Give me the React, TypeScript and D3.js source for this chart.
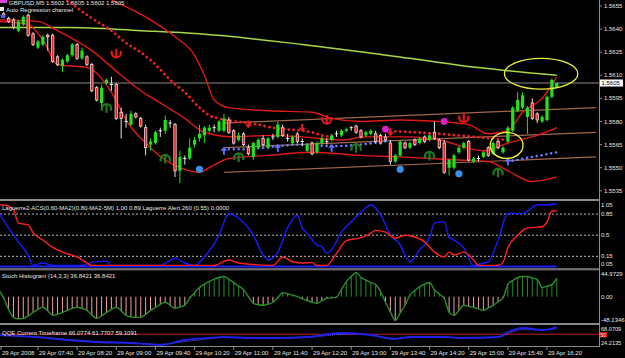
import React from "react";
import * as d3 from "d3";

// ---------- DATA ----------
const timeLabels = ["29 Apr 2008","29 Apr 07:40","29 Apr 08:20","29 Apr 09:00","29 Apr 09:40","29 Apr 10:20","29 Apr 11:00","29 Apr 11:40","29 Apr 12:20","29 Apr 13:00","29 Apr 13:40","29 Apr 14:20","29 Apr 15:00","29 Apr 15:40","29 Apr 16:20"];
const timeLabelBars = [0,8,16,24,32,40,48,56,64,72,80,88,96,104,112];
const priceTicks = [1.5655,1.5640,1.5625,1.5610,1.5595,1.5580,1.5565,1.5550,1.5535];

const open = [1.5649,1.5650,1.5647,1.5646,1.5639,1.5643,1.5649,1.5637,1.5628,1.5630,1.5636,1.5636,1.5622,1.5616,1.5619,1.5623,1.5630,1.5621,1.5622,1.5617,1.5602,1.5592,1.5605,1.5604,1.5604,1.5586,1.5580,1.5578,1.5585,1.5582,1.5576,1.5565,1.5566,1.5574,1.5574,1.5579,1.5578,1.5548,1.5556,1.5556,1.5565,1.5569,1.5571,1.5574,1.5576,1.5574,1.5574,1.5581,1.5574,1.5568,1.5572,1.5563,1.5557,1.5563,1.5569,1.5563,1.5570,1.5570,1.5576,1.5569,1.5566,1.5572,1.5567,1.5561,1.5566,1.5560,1.5566,1.5567,1.5568,1.5572,1.5571,1.5574,1.5576,1.5577,1.5574,1.5571,1.5572,1.5572,1.5571,1.5570,1.5566,1.5554,1.5558,1.5566,1.5563,1.5568,1.5566,1.5570,1.5568,1.5573,1.5568,1.5566,1.5550,1.5550,1.5560,1.5563,1.5567,1.5554,1.5556,1.5557,1.5563,1.5559,1.5567,1.5560,1.5567,1.5574,1.5587,1.5589,1.5583,1.5592,1.5585,1.5580,1.5581,1.5596,1.5602];
const high = [1.5651,1.5651,1.5648,1.5647,1.5646,1.5649,1.5650,1.5638,1.5633,1.5636,1.5637,1.5637,1.5623,1.5621,1.5624,1.5631,1.5631,1.5628,1.5623,1.5618,1.5603,1.5604,1.5608,1.5609,1.5605,1.5589,1.5585,1.5587,1.5586,1.5583,1.5578,1.5569,1.5574,1.5576,1.5584,1.5581,1.5579,1.5561,1.5558,1.5569,1.5570,1.5578,1.5577,1.5578,1.5578,1.5581,1.5585,1.5583,1.5575,1.5573,1.5573,1.5565,1.5567,1.5569,1.5571,1.5570,1.5572,1.5580,1.5578,1.5572,1.5571,1.5573,1.5569,1.5566,1.5567,1.5567,1.5570,1.5569,1.5572,1.5574,1.5575,1.5576,1.5577,1.5578,1.5575,1.5574,1.5575,1.5574,1.5572,1.5572,1.5568,1.5559,1.5568,1.5567,1.5567,1.5569,1.5570,1.5571,1.5572,1.5580,1.5569,1.5568,1.5556,1.5559,1.5564,1.5567,1.5568,1.5557,1.5558,1.5561,1.5564,1.5567,1.5568,1.5564,1.5577,1.5590,1.5599,1.5599,1.5590,1.5595,1.5586,1.5584,1.5597,1.5608,1.5605];
const low = [1.5647,1.5647,1.5644,1.5640,1.5638,1.5642,1.5635,1.5629,1.5627,1.5629,1.5626,1.5618,1.5616,1.5612,1.5618,1.5622,1.5620,1.5620,1.5616,1.5599,1.5593,1.5589,1.5604,1.5600,1.5581,1.5569,1.5576,1.5577,1.5582,1.5576,1.5558,1.5561,1.5565,1.5570,1.5572,1.5576,1.5544,1.5540,1.5552,1.5555,1.5563,1.5567,1.5566,1.5573,1.5573,1.5573,1.5573,1.5572,1.5565,1.5567,1.5564,1.5558,1.5555,1.5562,1.5564,1.5562,1.5568,1.5569,1.5570,1.5567,1.5565,1.5566,1.5564,1.5560,1.5558,1.5559,1.5565,1.5565,1.5567,1.5570,1.5570,1.5573,1.5574,1.5572,1.5569,1.5570,1.5571,1.5566,1.5565,1.5567,1.5552,1.5553,1.5557,1.5562,1.5562,1.5564,1.5565,1.5566,1.5567,1.5568,1.5562,1.5546,1.5545,1.5549,1.5559,1.5562,1.5554,1.5553,1.5554,1.5556,1.5557,1.5558,1.5562,1.5559,1.5566,1.5573,1.5586,1.5588,1.5572,1.5581,1.5579,1.5579,1.5580,1.5595,1.5602];
const close = [1.5649,1.5648,1.5645,1.5641,1.5645,1.5648,1.5636,1.5630,1.5632,1.5635,1.5635,1.5619,1.5617,1.5620,1.5623,1.5630,1.5621,1.5626,1.5617,1.5600,1.5594,1.5602,1.5607,1.5604,1.5582,1.5582,1.5580,1.5585,1.5583,1.5577,1.5563,1.5567,1.5573,1.5574,1.5581,1.5579,1.5548,1.5557,1.5556,1.5563,1.5568,1.5572,1.5576,1.5576,1.5576,1.5580,1.5582,1.5573,1.5566,1.5571,1.5565,1.5559,1.5566,1.5568,1.5565,1.5569,1.5570,1.5578,1.5571,1.5569,1.5570,1.5567,1.5567,1.5565,1.5559,1.5566,1.5569,1.5567,1.5571,1.5572,1.5574,1.5575,1.5576,1.5573,1.5570,1.5573,1.5574,1.5567,1.5566,1.5568,1.5554,1.5558,1.5567,1.5563,1.5566,1.5565,1.5569,1.5567,1.5571,1.5569,1.5563,1.5547,1.5555,1.5558,1.5563,1.5566,1.5555,1.5556,1.5556,1.5560,1.5558,1.5566,1.5563,1.5563,1.5576,1.5589,1.5594,1.5597,1.5589,1.5582,1.5581,1.5583,1.5596,1.5607,1.5605];

const smaBars = [0,14,29,41,62,84,98,114];
const smaVals = [1.5641,1.5641,1.5639,1.5637,1.5630,1.5621,1.5615,1.5610];

const upperBars = [23,31,36,40,42,44,47,55,64,68,74,82,90,96,100,104,107,111,114];
const upperVals = [1.5659,1.5646,1.5635,1.5623,1.5610,1.5594,1.5589,1.5587,1.5586,1.5582,1.5580,1.5581,1.5580,1.5578,1.5572,1.5574,1.5586,1.5595,1.5609];
const midBars = [0,8,12,19,25,29,32,38,42,48,55,62,70,75,84,90,99,104,110,114];
const midVals = [1.5646,1.5645,1.5639,1.5626,1.5610,1.5600,1.5594,1.5582,1.5573,1.5570,1.5571,1.5570,1.5568,1.5570,1.5570,1.5568,1.5561,1.5566,1.5571,1.5576];
const lowerBars = [0,6,9,12,18,23,25,26,30,34,37,41,43,47,55,64,74,82,94,100,104,109,114];
const lowerVals = [1.5645,1.5643,1.5633,1.5617,1.5615,1.5599,1.5587,1.5581,1.5566,1.5555,1.5550,1.5547,1.5550,1.5556,1.5558,1.5560,1.5558,1.5557,1.5555,1.5554,1.5548,1.5541,1.5544];

const redDot1Bars = [14,19,23,26,29,32,35,38,41,43,45,51,53,56,64,66,68];
const redDot1Vals = [1.5659,1.5647,1.5639,1.5631,1.5625,1.5617,1.5607,1.5599,1.5589,1.5584,1.5582,1.5579,1.5578,1.5576,1.5573,1.5571,1.5570];
const redDot2Bars = [79,90,104];
const redDot2Vals = [1.5574,1.5572,1.5568];
const blueDot1Bars = [46,50,57,61,68,79];
const blueDot1Vals = [1.5562,1.5562,1.5564,1.5565,1.5564,1.5567];
const blueDot2Bars = [104,114];
const blueDot2Vals = [1.5554,1.5560];

const downArrowBars = [51,62,80];
const downArrowVals = [1.5578,1.5576,1.5573];
const upArrowBars = [46,57,68,104];
const upArrowVals = [1.5561,1.5563,1.5563,1.5554];
const redShoeBars = [24,67,95];
const redShoeVals = [1.5624,1.5581,1.5582];
const greenShoeBars = [22,34,49,73,88,102];
const greenShoeVals = [1.5589,1.5556,1.5557,1.5563,1.5558,1.5547];
const blueBallBars = [41,82,94];
const blueBallVals = [1.5549,1.5549,1.5546];
const pinkBallBars = [79,91];
const pinkBallVals = [1.5575,1.5580];

const chanBars = [46,122];
const chanTop = [1.5579,1.5589];
const chanMid = [1.5563,1.5573];
const chanLow = [1.5547,1.5557];
const lastPrice = 1.5605;

const ellipseBars = [[103.3,118.3],[100.4,107.1]];
const ellipseVals = [[1.5601,1.5621],[1.5556,1.5573]];

const lagBlueBars = [0,2,4,6,7,9,11,17,19,22,23,33,36,38,40,42,45,47,49,52,54,55,57,59,61,62,63,65,66,67,68,70,72,74,76,78,80,82,83,84,86,88,89,91,92,93,95,97,99,100,102,104,107,110,111,114];
const lagBlueVals = [0.87,0.62,0.39,0.17,0,0.04,0,0,0.05,0.07,0,0,0.12,0.04,0,0.14,0.5,0.86,0.78,0.5,0.17,0.09,0.22,0.62,0.83,0.62,0.53,0.34,0.31,0.2,0.26,0.55,0.72,0.88,1.0,0.84,0.5,0.34,0.17,0.06,0.26,0.46,0.7,0.72,0.46,0.42,0.29,0,0.04,0.06,0.42,0.86,0.86,1.0,1.0,1.02];
const lagRedBars = [0,1,3,4,6,7,9,11,13,16,18,19,44,47,49,56,58,60,62,64,65,67,69,71,74,76,77,79,81,83,85,87,89,91,92,93,95,97,98,102,103,104,106,108,111,112,113,114];
const lagRedVals = [1.0,1.0,0.92,0.7,0.67,0.54,0.42,0.3,0.22,0.14,0.04,0,0,0.09,0.04,0,0.14,0.06,0.04,0.05,0,0,0.2,0.41,0.46,0.53,0.58,0.55,0.45,0.5,0.47,0.39,0.22,0.14,0.22,0.17,0.22,0.09,0,0,0.05,0.29,0.5,0.62,0.64,0.72,0.9,0.9];
const lagLevels = [0.85,0.5,0.15];

const stoch = [14,-3,-25,-41,-44,-43,-38,-31,-25,-21,-28,-37,-35,-31,-27,-23,-21,-23,-27,-36,-43,-38,-31,-25,-21,-28,-37,-40,-41,-41,-35,-27,-21,-15,-11,-17,-23,-20,-17,-3,8,18,25,30,35,38,40,35,28,21,14,0,-13,-16,-17,-15,-11,-2,8,6,3,0,-4,-8,-11,-13,-8,-3,-2,-1,14,30,40,48,38,33,28,24,10,-11,-30,-47,-32,-17,3,12,20,25,28,14,5,-3,-31,-37,-27,-17,-19,-21,-24,-27,-22,-17,-10,-3,24,32,38,40,40,37,34,18,21,24,37];

const qqeBars = [0,7,14,20,27,33,38,43,46,52,57,63,70,74,76,79,81,84,91,94,102,104,107,111,114];
const qqeVals = [48.3,44,37.4,33,30.8,26.4,37.4,41.8,44,41.8,41.8,44,52.7,50.5,48.3,41.8,39.6,44,44,41.8,44,54.9,63.7,59.3,65];
const qqeSlowVals = [47,45,39,34,31,28,34,40,43,42,41,43,50,51,49,43,41,43,44,42,43,51,60,60,62];

// ---------- SCALES ----------
const xS = d3.scaleLinear().domain([0, 114]).range([-1.2, 556.8]);
const yM = d3.scaleLinear().domain([1.5535, 1.5655]).range([190.8, 6]);
const yL = d3.scaleLinear().domain([0, 1]).range([265.4, 205]);
const yS = d3.scaleLinear().domain([-48.1346, 44.9729]).range([321, 274]);
const yQ = d3.scaleLinear().domain([24.2135, 68.0709]).range([346, 326]);

const zip = (a: number[], b: number[]) => a.map((v, i) => [v, b[i]] as [number, number]);
const mkLine = (ys: d3.ScaleLinear<number, number>) =>
  d3.line<[number, number]>().x(d => xS(d[0])).y(d => ys(d[1])).curve(d3.curveMonotoneX);
const lineM = mkLine(yM);
const lineStraightM = d3.line<[number, number]>().x(d => xS(d[0])).y(d => yM(d[1]));
const lineL = mkLine(yL);
const lineS = mkLine(yS);
const lineQ = mkLine(yQ);

const FONT = "Liberation Sans, Arial, sans-serif";
const TXT = "#e6e6e6";

function Shoe({ cx, cy, up, color }: { cx: number; cy: number; up: boolean; color: string }) {
  const r = 4.6;
  const d = up
    ? `M${cx - r},${cy - 3} L${cx - r},${cy - 1} A${r},${r} 0 0 0 ${cx + r},${cy - 1} L${cx + r},${cy - 3} M${cx},${cy - 5} L${cx},${cy + 2.5}`
    : `M${cx - r},${cy + 3} L${cx - r},${cy + 1} A${r},${r} 0 0 1 ${cx + r},${cy + 1} L${cx + r},${cy + 3} M${cx},${cy + 5} L${cx},${cy - 2.5}`;
  return <path d={d} fill="none" stroke={color} strokeWidth={2.2} />;
}

function Arrow({ cx, cy, down, color }: { cx: number; cy: number; down: boolean; color: string }) {
  const s = down ? 1 : -1;
  const d = `M${cx - 1},${cy - 4 * s} L${cx + 1},${cy - 4 * s} L${cx + 1},${cy} L${cx + 3.5},${cy} L${cx},${cy + 4 * s} L${cx - 3.5},${cy} L${cx - 1},${cy} Z`;
  return <path d={d} fill={color} />;
}

export default function App() {
  const bw = 1.6;
  return (
    <svg width={625} height={358} style={{ display: "block", position: "absolute", left: 0, top: 0, background: "#000" }}
      fontFamily={FONT}>
      <defs>
        <clipPath id="cm"><rect x={0} y={0} width={599} height={199} /></clipPath>
        <clipPath id="cl"><rect x={0} y={201} width={599} height={67} /></clipPath>
      </defs>
      <rect x={0} y={0} width={625} height={358} fill="#000" />

      {/* ---------- MAIN PANEL ---------- */}
      <g clipPath="url(#cm)">
        <line x1={0} x2={599} y1={yM(lastPrice)} y2={yM(lastPrice)} stroke="#8a8a8a" strokeWidth={1} />
        {[chanTop, chanMid, chanLow].map((c, k) => (
          <path key={k} d={lineStraightM(zip(chanBars, c)) || ""} stroke="#a0684a" strokeWidth={1.2} fill="none" />
        ))}
        <path d={lineM(zip(smaBars, smaVals)) || ""} stroke="#a8d848" strokeWidth={1.5} fill="none" />
        {[zip(upperBars, upperVals), zip(midBars, midVals), zip(lowerBars, lowerVals)].map((b, k) => (
          <path key={k} d={lineM(b) || ""} stroke="#e01818" strokeWidth={1.4} fill="none" />
        ))}
        {[zip(redDot1Bars, redDot1Vals), zip(redDot2Bars, redDot2Vals)].map((b, k) => (
          <path key={k} d={lineM(b) || ""} stroke="#e02020" strokeWidth={3} strokeDasharray="0,4.9" strokeLinecap="round" fill="none" />
        ))}
        {[zip(blueDot1Bars, blueDot1Vals), zip(blueDot2Bars, blueDot2Vals)].map((b, k) => (
          <path key={k} d={lineM(b) || ""} stroke="#6a7cff" strokeWidth={2.6} strokeDasharray="0,4.9" strokeLinecap="round" fill="none" />
        ))}
        {open.map((o, i) => {
          const c = close[i];
          const x = xS(i);
          const bull = c > o;
          const doji = c === o;
          const yt = yM(Math.max(o, c));
          const yb = yM(Math.min(o, c));
          const wick = bull ? "#22e022" : "#e8e8e8";
          return (
            <g key={i}>
              <line x1={x} x2={x} y1={yM(high[i])} y2={yM(low[i])} stroke={wick} strokeWidth={1} />
              {doji ? (
                <line x1={x - bw} x2={x + bw} y1={yt} y2={yt} stroke="#f0f0f0" strokeWidth={1} />
              ) : bull ? (
                <rect x={x - bw} y={yt} width={bw * 2} height={Math.max(1, yb - yt)} fill="#22e022" />
              ) : (
                <rect x={x - bw + 0.4} y={yt} width={bw * 2 - 0.8} height={Math.max(1, yb - yt)} fill="#e02020" stroke="#f2d0d0" strokeWidth={0.8} />
              )}
            </g>
          );
        })}
        {redShoeBars.map((b, k) => <Shoe key={"r" + k} cx={xS(b)} cy={yM(redShoeVals[k])} up={true} color="#e01818" />)}
        {greenShoeBars.map((b, k) => <Shoe key={"g" + k} cx={xS(b)} cy={yM(greenShoeVals[k])} up={false} color="#1f7a1f" />)}
        {downArrowBars.map((b, k) => <Arrow key={"d" + k} cx={xS(b)} cy={yM(downArrowVals[k])} down={true} color="#e02020" />)}
        {upArrowBars.map((b, k) => <Arrow key={"u" + k} cx={xS(b)} cy={yM(upArrowVals[k])} down={false} color="#5a70ff" />)}
        {blueBallBars.map((b, k) => <circle key={"b" + k} cx={xS(b)} cy={yM(blueBallVals[k])} r={3.6} fill="#3a8fe8" />)}
        {pinkBallBars.map((b, k) => <circle key={"p" + k} cx={xS(b)} cy={yM(pinkBallVals[k])} r={3.4} fill="#e020d0" />)}
        {ellipseBars.map((e, k) => {
          const x0 = xS(e[0]), x1 = xS(e[1]);
          const y0 = yM(ellipseVals[k][1]), y1 = yM(ellipseVals[k][0]);
          return <ellipse key={k} cx={(x0 + x1) / 2} cy={(y0 + y1) / 2} rx={(x1 - x0) / 2} ry={(y1 - y0) / 2} fill="none" stroke="#f0f040" strokeWidth={1.3} />;
        })}
        <rect x={0} y={0} width={7} height={3} fill="#e040e0" />
        <text x={9} y={5} fontSize={6} fill={TXT}>GBPUSD,M5  1.5602 1.5605 1.5602 1.5605</text>
        <rect x={0} y={7} width={4} height={4} fill="#e6e6e6" />
        <text x={6} y={12} fontSize={6} fill={TXT}>Auto Regression channel</text>
        <rect x={1} y={15} width={4} height={3} fill="#4060ff" />
      </g>

      {/* ---------- LAGUERRE ---------- */}
      <g clipPath="url(#cl)">
        {lagLevels.map((v, k) => (
          <line key={k} x1={0} x2={599} y1={yL(v)} y2={yL(v)} stroke="#b8b8b8" strokeWidth={1} strokeDasharray="2,2" />
        ))}
        <line x1={0} x2={xS(114)} y1={266.6} y2={266.6} stroke="#2020f0" strokeWidth={2} />
        <path d={lineL(zip(lagBlueBars, lagBlueVals)) || ""} stroke="#1a1aff" strokeWidth={1.4} fill="none" />
        <path d={lineL(zip(lagRedBars, lagRedVals)) || ""} stroke="#ff2020" strokeWidth={1.4} fill="none" />
        <text x={2} y={210} fontSize={6} fill={TXT}>Laguerre2-ACS(0.60-MA2)(0.80-MA2-5M)  1.00 0.89  Laguerre Alert 260 (0.55) 0.0000</text>
      </g>

      {/* ---------- STOCH HISTOGRAM ---------- */}
      {stoch.map((v, i) => (
        <line key={i} x1={xS(i)} x2={xS(i)} y1={yS(0)} y2={yS(v)} stroke={v < 0 ? "#f0a0a0" : "#2a8a2a"} strokeWidth={1} />
      ))}
      <path d={lineS(stoch.map((v, i) => [i, v] as [number, number])) || ""} stroke="#2c8c2c" strokeWidth={1.4} fill="none" />
      <text x={2} y={278} fontSize={6} fill={TXT}>Stoch Histogram (14,3,3) 36.8421 36.8421</text>

      {/* ---------- QQE ---------- */}
      <line x1={0} x2={599} y1={yQ(50)} y2={yQ(50)} stroke="#b02020" strokeWidth={1} />
      <path d={lineQ(zip(qqeBars, qqeSlowVals)) || ""} stroke="#7070ff" strokeWidth={1} strokeDasharray="1,1" fill="none" />
      <path d={lineQ(zip(qqeBars, qqeVals)) || ""} stroke="#2020e8" strokeWidth={1.8} fill="none" />
      <text x={2} y={335} fontSize={6} fill={TXT}>QQE Current Timeframe 66.0774 61.7707 59.1091</text>

      {/* ---------- FRAMES ---------- */}
      {[199.5, 200.5, 268.8, 269.8, 323.5, 324.5, 346.5].map((y, k) => (
        <line key={k} x1={0} x2={599} y1={y} y2={y} stroke="#8c8c8c" strokeWidth={1} />
      ))}
      <line x1={599.5} x2={599.5} y1={0} y2={347} stroke="#8c8c8c" strokeWidth={1} />

      {/* ---------- RIGHT AXIS LABELS ---------- */}
      {priceTicks.map((p, k) => (
        <g key={k}>
          <line x1={599} x2={602} y1={yM(p)} y2={yM(p)} stroke="#8c8c8c" />
          <text x={604} y={yM(p) + 2} fontSize={6} fill={TXT}>{p.toFixed(4)}</text>
        </g>
      ))}
      <rect x={600} y={yM(lastPrice) - 3.5} width={23} height={7} fill="#fff" />
      <text x={601.5} y={yM(lastPrice) + 2} fontSize={6} fill="#000">{lastPrice.toFixed(4)}</text>

      {[["1.05", 1.0], ["0.85", 0.85], ["0.5", 0.5], ["0.15", 0.15], ["0.05", 0.02]].map(([t, v], k) => (
        <text key={k} x={601} y={yL(v as number) + 2} fontSize={6} fill={TXT}>{t as string}</text>
      ))}
      <text x={601} y={276} fontSize={6} fill={TXT}>44.9729</text>
      <text x={601} y={yS(0) + 2} fontSize={6} fill={TXT}>0.00</text>
      <text x={601} y={321.5} fontSize={6} fill={TXT}>-48.1346</text>
      <text x={601} y={330.6} fontSize={5.6} fill={TXT}>68.0709</text>
      <rect x={600} y={yQ(50) - 2.2} width={7} height={5.4} fill="#d01010" />
      <text x={600.6} y={yQ(50) + 2.4} fontSize={4.6} fill="#f0f0f0">50</text>
      <text x={601} y={344.8} fontSize={5.6} fill={TXT}>24.2135</text>

      {/* ---------- TIME AXIS ---------- */}
      {timeLabelBars.map((b, k) => {
        const x = Math.max(1, xS(b));
        return (
          <g key={k}>
            <line x1={x} x2={x} y1={347} y2={350} stroke="#8c8c8c" />
            <text x={x + 1} y={355} fontSize={6} fill={TXT}>{timeLabels[k]}</text>
          </g>
        );
      })}
    </svg>
  );
}
